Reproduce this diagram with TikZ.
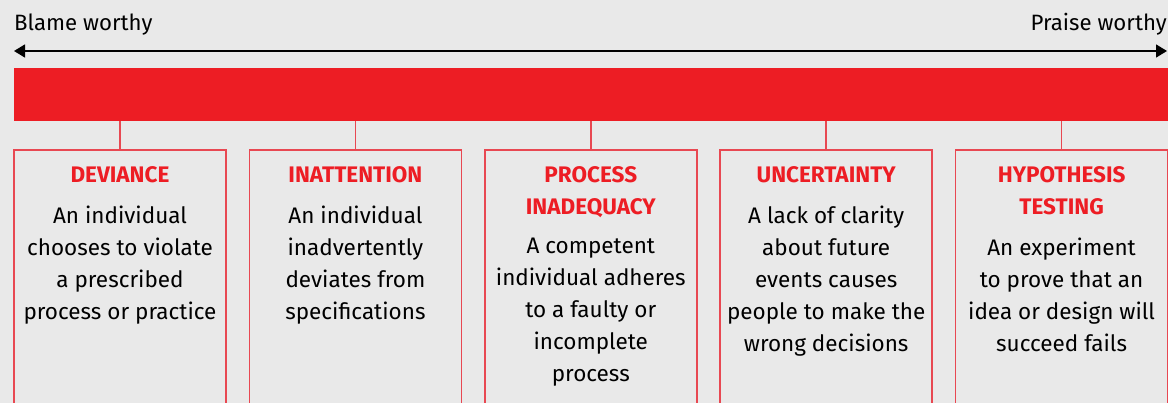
\documentclass[tikz,border=0pt]{standalone}
\usepackage{fontspec}
\setmainfont{Fira Sans}
\usetikzlibrary{arrows.meta,positioning,calc}
\definecolor{barRed}   {RGB}{237, 29, 36}
\definecolor{edgeRed}  {RGB}{232, 72, 82}
\definecolor{paperGray}{RGB}{233,233,233}

\begin{document}
\begin{tikzpicture}[x=1pt,y=-1pt,
    catbox/.style={draw=edgeRed,line width=1.7pt,minimum width=212pt,
      minimum height=300pt,anchor=north,inner sep=0pt},
    cattitle/.style={align=center,inner sep=0pt,text depth=0pt,text=barRed,
      font=\fontsize{22.5}{32}\selectfont\bfseries},
    catbody/.style={align=center,inner sep=0pt,
      font=\fontsize{22.5}{32}\selectfont},
    endlabel/.style={inner sep=0pt,font=\fontsize{22.2}{26}\selectfont}]
  % page and clipping
  \useasboundingbox (0,0) rectangle (1168,403);
  \clip (0,0) rectangle (1168,403);
  \fill[paperGray] (0,0) rectangle (1168,403);

  % scale from blame to praise
  \node[endlabel,anchor=base west] (blame) at (14,31) {Blame worthy};
  \node[endlabel,anchor=base east] (praise) at (1167,31) {Praise worthy};
  \coordinate (blameEnd) at (14,51);
  \coordinate (praiseEnd) at (1167,51);
  \draw[{Triangle[length=11pt,width=13pt]}-{Triangle[length=11pt,width=13pt]},
    line width=1.5pt] (blameEnd) -- (praiseEnd);

  % red band
  \node[fill=barRed,anchor=north west,inner sep=0pt,minimum width=1160pt,
    minimum height=53pt] (bar) at (14,68) {};

  % the five categories
  \foreach \i/\tit/\txt in {
      0/{DEVIANCE}/{An individual\\chooses to violate\\a prescribed\\process or practice},
      1/{INATTENTION}/{An individual\\inadvertently\\deviates from\\specifications},
      2/{PROCESS\\INADEQUACY}/{A competent\\individual adheres\\to a faulty or\\incomplete\\process},
      3/{UNCERTAINTY}/{A lack of clarity\\about future\\events causes\\people to make the\\wrong decisions},
      4/{HYPOTHESIS\\TESTING}/{An experiment\\to prove that an\\idea or design will\\succeed fails}}{
    \node[catbox] (box\i) at (120+235.4*\i,149) {};
    \draw[edgeRed,line width=1.7pt] (bar.south -| box\i.north) -- (box\i.north);
    \node[cattitle,below=17pt of box\i.north] (title\i) {\tit};
    \node[catbody,below=23pt of title\i] (body\i) {\txt};
  }
\end{tikzpicture}
\end{document}
